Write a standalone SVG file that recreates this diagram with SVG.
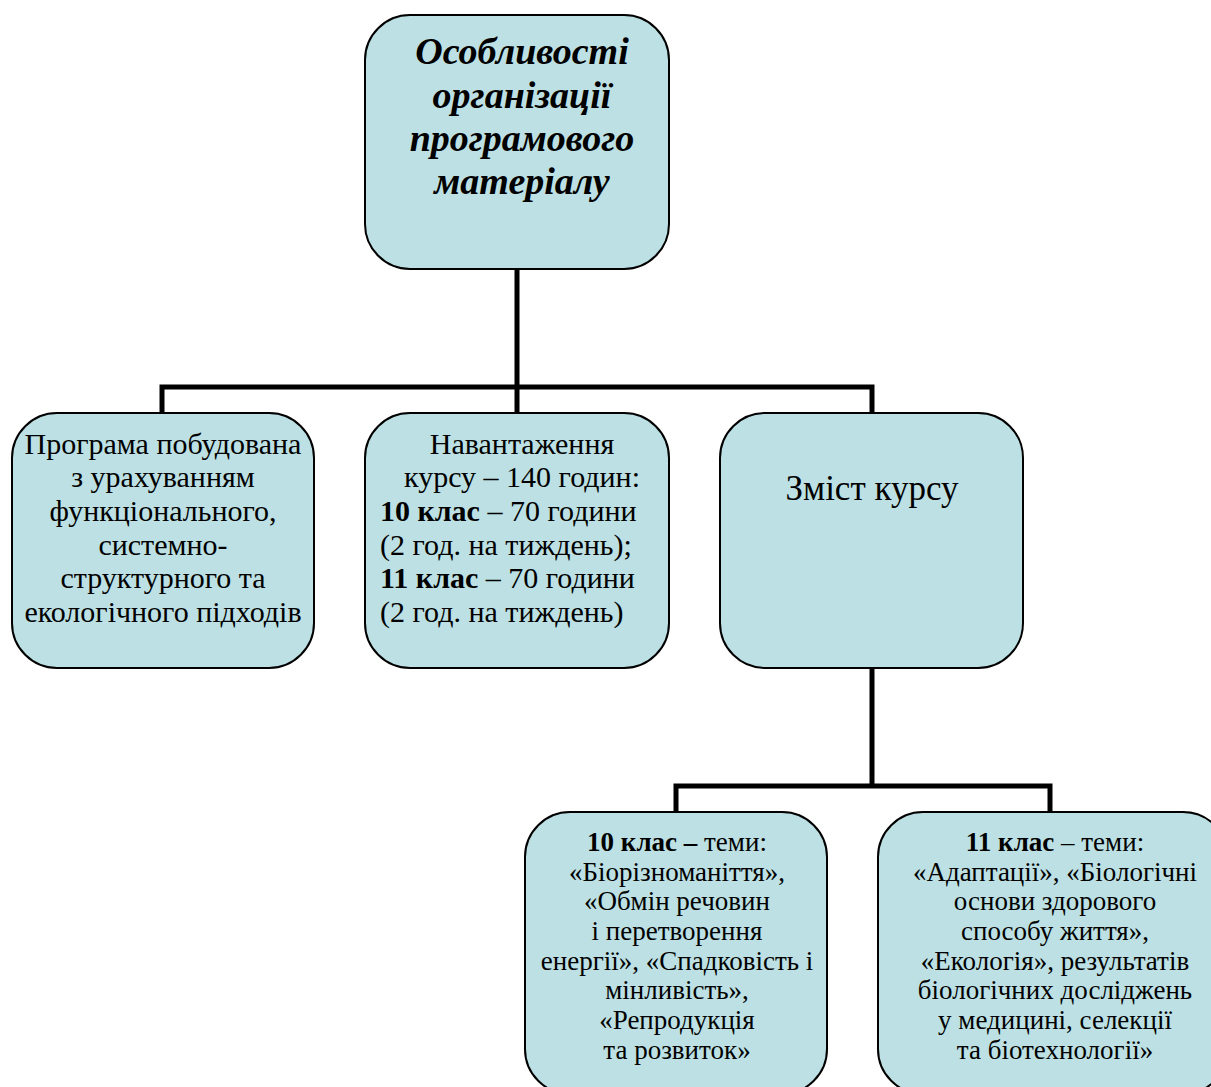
<svg xmlns="http://www.w3.org/2000/svg" width="1211" height="1087" viewBox="0 0 1211 1087">
<style>
.box{fill:#BCE0E3;stroke:#000;stroke-width:2}
.con{fill:none;stroke:#000;stroke-width:5;stroke-linejoin:miter}
text{font-family:"Liberation Serif","Times New Roman",serif;fill:#000}
.t{font-size:30px}
.h{font-size:38px;font-weight:bold;font-style:italic}
.s{font-size:27px}
.c{text-anchor:middle}
</style>
<rect width="1211" height="1087" fill="#fff"/>
<g id="connectors">
<path class="con" d="M517 269V387M162 413V387H872V413M517 387V413"/>
<path class="con" d="M872 668V786M676 812V786H1050V812"/>
</g>
<g id="root">
<rect class="box" x="365" y="15" width="304" height="254" rx="45"/>
<text class="h c" font-family="Liberation Serif, serif"><tspan x="522" y="64">Особливості</tspan><tspan x="522" y="108">організації</tspan><tspan x="522" y="151">програмового</tspan><tspan x="522" y="194">матеріалу</tspan></text>
</g>
<g id="approach">
<rect class="box" x="12" y="413" width="302" height="255" rx="45"/>
<text class="t c"><tspan x="163" y="454">Програма побудована</tspan><tspan x="163" y="487">з урахуванням</tspan><tspan x="163" y="521">функціонального,</tspan><tspan x="163" y="555">системно-</tspan><tspan x="163" y="588">структурного та</tspan><tspan x="163" y="622">екологічного підходів</tspan></text>
</g>
<g id="load">
<rect class="box" x="365" y="413" width="304" height="255" rx="45"/>
<text class="t c"><tspan x="522" y="454">Навантаження</tspan><tspan x="522" y="487">курсу – 140 годин:</tspan></text>
<text class="t"><tspan x="380" y="521"><tspan font-weight="bold">10 клас</tspan> – 70 години</tspan><tspan x="380" y="555">(2 год. на тиждень);</tspan><tspan x="380" y="588"><tspan font-weight="bold">11 клас</tspan> – 70 години</tspan><tspan x="380" y="622">(2 год. на тиждень)</tspan></text>
</g>
<g id="content">
<rect class="box" x="720" y="413" width="303" height="255" rx="45"/>
<text class="c" x="872" y="500" font-size="35">Зміст курсу</text>
</g>
<g id="grade10">
<rect class="box" x="525" y="812" width="302" height="282" rx="45"/>
<text class="s c"><tspan x="677" y="851"><tspan font-weight="bold">10 клас –</tspan> теми:</tspan><tspan x="677" y="881">«Біорізноманіття»,</tspan><tspan x="677" y="910">«Обмін речовин</tspan><tspan x="677" y="940">і перетворення</tspan><tspan x="677" y="970">енергії», «Спадковість і</tspan><tspan x="677" y="999">мінливість»,</tspan><tspan x="677" y="1029">«Репродукція</tspan><tspan x="677" y="1059">та розвиток»</tspan></text>
</g>
<g id="grade11">
<rect class="box" x="878" y="812" width="350" height="282" rx="45"/>
<text class="s c"><tspan x="1055" y="851"><tspan font-weight="bold">11 клас</tspan> – теми:</tspan><tspan x="1055" y="881">«Адаптації», «Біологічні</tspan><tspan x="1055" y="910">основи здорового</tspan><tspan x="1055" y="940">способу життя»,</tspan><tspan x="1055" y="970">«Екологія», результатів</tspan><tspan x="1055" y="999">біологічних досліджень</tspan><tspan x="1055" y="1029">у медицині, селекції</tspan><tspan x="1055" y="1059">та біотехнології»</tspan></text>
</g>
</svg>
